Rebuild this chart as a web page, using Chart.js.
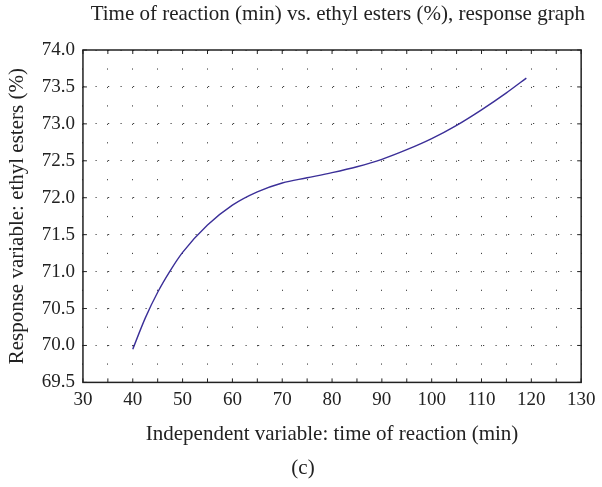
<!DOCTYPE html>
<html>
<head>
<meta charset="utf-8">
<script src="https://cdn.jsdelivr.net/npm/chart.js@4"></script>
<style>
  html, body { margin: 0; padding: 0; background: #fff; }
  #wrap { width: 602px; height: 487px; }
</style>
</head>
<body>
<div id="wrap"><canvas id="chartResp" width="602" height="487"></canvas></div>
<script>
// values
var timeMin = [40, 42.5, 45, 47.5, 50, 55, 60, 65, 70, 75, 80, 85, 90, 95, 100, 105, 110, 115, 119];
var esters  = [69.95, 70.37, 70.72, 71.01, 71.26, 71.63, 71.9, 72.08, 72.2, 72.27, 72.34, 72.42, 72.52, 72.65, 72.8, 72.98, 73.19, 73.42, 73.62];

var xTicks = [30, 40, 50, 60, 70, 80, 90, 100, 110, 120, 130];
var yMin = 69.5, yMax = 74.0;

var titulo = "Time of reaction (min) vs. ethyl esters (%), response graph";
var tituloX = "Independent variable: time of reaction (min)";
var tituloY = "Response variable: ethyl esters (%)";
var legenda = "(c)";

var pontos = [];
for (var i = 0; i < timeMin.length; i++) {
  pontos.push({ x: timeMin[i], y: esters[i] });
}

var fonte = "'Liberation Serif', 'DejaVu Serif', serif";

// frame around the plot area plus small inward ticks
var moldura = {
  id: 'moldura',
  afterDraw: function (chart) {
    var a = chart.chartArea, ctx = chart.ctx;
    var sx = chart.scales.x, sy = chart.scales.y;
    ctx.save();
    ctx.strokeStyle = '#222';
    ctx.lineWidth = 1.5;
    ctx.strokeRect(a.left, a.top, a.right - a.left, a.bottom - a.top);
    ctx.lineWidth = 1;
    ctx.beginPath();
    sx.ticks.forEach(function (t) {
      var px = sx.getPixelForValue(t.value);
      ctx.moveTo(px, a.bottom); ctx.lineTo(px, a.bottom - 4);
      ctx.moveTo(px, a.top); ctx.lineTo(px, a.top + 4);
    });
    sy.ticks.forEach(function (t) {
      var py = sy.getPixelForValue(t.value);
      ctx.moveTo(a.left, py); ctx.lineTo(a.left + 4, py);
      ctx.moveTo(a.right, py); ctx.lineTo(a.right - 4, py);
    });
    ctx.stroke();
    ctx.restore();
  }
};

function plot() {
  var ctxResp = document.getElementById("chartResp");
  var chartGraph = new Chart(ctxResp, {
    type: 'scatter',
    data: {
      datasets: [{
        data: pontos,
        showLine: true,
        borderColor: '#3b2f98',
        borderWidth: 1.4,
        pointRadius: 0,
        fill: false,
        cubicInterpolationMode: 'monotone'
      }]
    },
    plugins: [moldura],
    options: {
      responsive: false,
      animation: false,
      layout: { padding: { left: 21, right: 17, top: 2, bottom: 4 } },
      plugins: {
        legend: { display: false },
        tooltip: { enabled: false },
        title: {
          display: true,
          text: titulo,
          align: 'end',
          color: '#222',
          font: { family: fonte, size: 21, weight: 'normal' },
          padding: { top: 0, bottom: 22.8 }
        },
        subtitle: {
          display: true,
          text: legenda,
          position: 'bottom',
          color: '#222',
          font: { family: fonte, size: 21, weight: 'normal' },
          padding: { top: 8.8, bottom: 2.4 }
        }
      },
      scales: {
        x: {
          type: 'linear',
          min: xTicks[0],
          max: xTicks[xTicks.length - 1],
          ticks: {
            stepSize: 5,
            color: '#222',
            font: { family: fonte, size: 19 },
            maxRotation: 0,
            autoSkip: false,
            padding: 6.6,
            callback: function (v) { return xTicks.indexOf(v) >= 0 ? v : ''; }
          },
          grid: { color: '#444', lineWidth: 1, drawTicks: false },
          border: { display: false, dash: [1.2, 17.24] },
          title: {
            display: true,
            text: tituloX,
            color: '#222',
            font: { family: fonte, size: 21 },
            padding: { top: 3, bottom: 0 }
          }
        },
        y: {
          min: yMin,
          max: yMax,
          ticks: {
            stepSize: 0.5,
            color: '#222',
            font: { family: fonte, size: 19 },
            padding: 8,
            callback: function (v) { return v.toFixed(1); }
          },
          grid: { color: '#444', lineWidth: 1, drawTicks: false },
          border: { display: false, dash: [1.2, 11.3] },
          title: {
            display: true,
            text: tituloY,
            color: '#222',
            font: { family: fonte, size: 21 },
            padding: { top: -16.4, bottom: 3.9 }
          }
        }
      }
    }
  });
}

plot();
</script>
</body>
</html>
